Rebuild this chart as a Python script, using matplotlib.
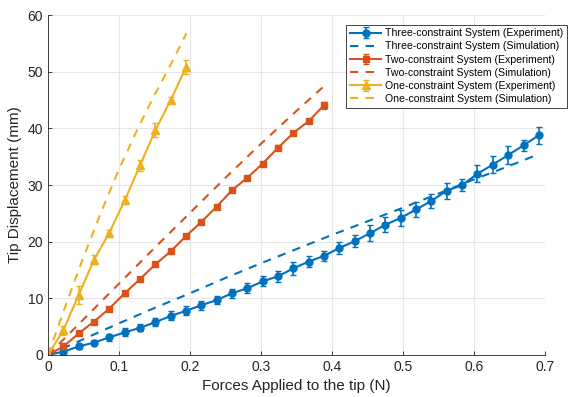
import numpy as np
import matplotlib.pyplot as plt

plt.rcParams['font.family'] = ['Liberation Sans', 'DejaVu Sans']

# experiment: forces (N), displacement (mm), error (mm)
force_three = np.arange(33) * 0.0216
disp_three = [0, 0.6, 1.5, 2.2, 3.1, 4.0, 4.8, 5.8, 6.9, 7.8, 8.8, 9.7, 10.9, 11.8, 13.0, 13.9,
              15.3, 16.5, 17.5, 18.9, 20.1, 21.5, 23.0, 24.2, 25.7, 27.2, 29.0, 30.0, 32.0,
              33.6, 35.3, 37.0, 38.8]
err_three = [0.2, 0.4, 0.5, 0.5, 0.6, 0.7, 0.6, 0.7, 0.8, 0.8, 0.8, 0.7, 0.8, 0.9, 0.9, 1.0,
             1.1, 1.0, 0.9, 1.1, 1.1, 1.4, 1.3, 1.4, 1.3, 1.2, 1.4, 1.0, 1.5, 1.5, 1.6, 1.0, 1.5]

force_two = np.arange(19) * 0.0216
disp_two = [0, 1.5, 3.8, 5.9, 8.2, 10.9, 13.4, 16.0, 18.3, 21.0, 23.5, 26.2, 29.1, 31.3,
            33.8, 36.6, 39.2, 41.3, 44.1]
err_two = [0.2, 0.3, 0.3, 0.3, 0.3, 0.4, 0.3, 0.3, 0.3, 0.3, 0.3, 0.3, 0.4, 0.3, 0.3, 0.5,
           0.3, 0.3, 0.6]

force_one = np.arange(10) * 0.0216
disp_one = [0, 4.4, 10.6, 16.8, 21.6, 27.3, 33.5, 39.7, 45.0, 50.8]
err_one = [0.3, 0.8, 1.6, 0.8, 0.5, 0.7, 1.0, 1.3, 0.6, 1.2]

# simulation
sim_force_three = [0, 0.05, 0.1, 0.15, 0.2, 0.25, 0.3, 0.35, 0.4, 0.45, 0.5, 0.55, 0.6, 0.65, 0.69]
sim_disp_three = [0, 2.8, 5.6, 8.3, 10.9, 13.6, 16.2, 18.7, 21.2, 23.6, 26.0, 28.5, 31.0, 33.4, 35.4]

sim_force_two = [0, 0.05, 0.1, 0.15, 0.2, 0.25, 0.3, 0.35, 0.389]
sim_disp_two = [0, 6.3, 12.6, 18.9, 25.1, 31.3, 37.3, 43.1, 47.5]

sim_force_one = [0, 0.025, 0.05, 0.075, 0.1, 0.125, 0.15, 0.175, 0.195]
sim_disp_one = [0, 8.8, 17.3, 25.3, 32.8, 39.6, 45.9, 51.8, 56.8]

blue = '#0072BD'
orange = '#D95319'
yellow = '#EDB120'

fig = plt.figure(figsize=(5.69, 3.97), dpi=100)
ax = fig.add_axes([0.0844, 0.1058, 0.8736, 0.8562])

h = []
h.append(ax.errorbar(force_three, disp_three, yerr=err_three, color=blue, marker='o', ms=5, lw=1.5,
                     capsize=2.5, elinewidth=1.2, label='Three-constraint System (Experiment)'))
h += ax.plot(sim_force_three, sim_disp_three, '--', color=blue, lw=1.5, dashes=(4, 3.5),
             label='Three-constraint System (Simulation)')
h.append(ax.errorbar(force_two, disp_two, yerr=err_two, color=orange, marker='s', ms=4.5, lw=1.5,
                     capsize=2.5, elinewidth=1.2, label='Two-constraint System (Experiment)'))
h += ax.plot(sim_force_two, sim_disp_two, '--', color=orange, lw=1.5, dashes=(4, 3.5),
             label='Two-constraint System (Simulation)')
h.append(ax.errorbar(force_one, disp_one, yerr=err_one, color=yellow, marker='^', ms=5.5, lw=1.5,
                     capsize=2.5, elinewidth=1.2, label='One-constraint System (Experiment)'))
h += ax.plot(sim_force_one, sim_disp_one, '--', color=yellow, lw=1.5, dashes=(4, 3.5),
             label='One-constraint System (Simulation)')

ax.set_xlim(0, 0.7)
ax.set_ylim(0, 60)
ax.set_xticks([0, 0.1, 0.2, 0.3, 0.4, 0.5, 0.6, 0.7])
ax.set_xticklabels(['0', '0.1', '0.2', '0.3', '0.4', '0.5', '0.6', '0.7'])
ax.set_yticks([0, 10, 20, 30, 40, 50, 60])
ax.grid(True, color='#e6e6e6', lw=0.8)
ax.set_axisbelow(True)
for s in ['top', 'right']:
    ax.spines[s].set_visible(False)
for s in ['left', 'bottom']:
    ax.spines[s].set_color('#262626')
    ax.spines[s].set_linewidth(0.6)
ax.tick_params(direction='in', length=3, width=0.6, colors='#262626', labelsize=10)
ax.set_xlabel('Forces Applied to the tip (N)', fontsize=11, color='#262626')
ax.set_ylabel('Tip Displacement (mm)', fontsize=11, color='#262626')

leg = ax.legend(handles=h, loc='upper right', bbox_to_anchor=(1.044, 0.972), fontsize=7.6,
                fancybox=False, edgecolor='#262626', framealpha=1, handlelength=3.0,
                borderpad=0.35, labelspacing=0.3, handletextpad=0.35, borderaxespad=0)
leg.get_frame().set_linewidth(0.6)

fig.savefig('out.png', dpi=100)
